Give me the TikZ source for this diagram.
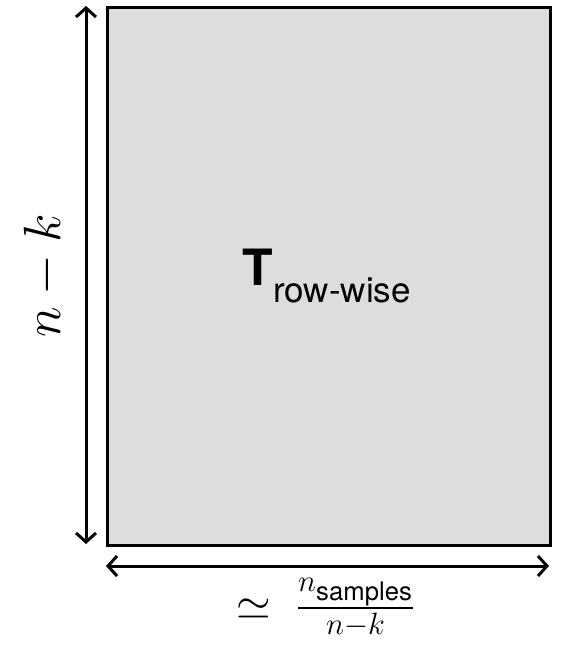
\documentclass[tikz,border=0pt]{standalone}
\usepackage{amsmath}
\usepackage{fontspec}
\setsansfont{TeX Gyre Heros}
\usetikzlibrary{arrows.meta}
\definecolor{boxgray}{HTML}{DDDDDD}
\begin{document}
\begin{tikzpicture}[x=1pt,y=-1pt,
  dimarrow/.style={line width=3pt,{Straight Barb[length=9pt,width=20pt]}-{Straight Barb[length=9pt,width=20pt]}},
  biglabel/.style={font=\fontsize{20.74}{25}\selectfont, inner sep=0pt, scale=2.14, transform shape}]
\useasboundingbox (0,0) rectangle (560,648);
\node[draw, line width=3pt, fill=boxgray, minimum width=443pt, minimum height=538pt, anchor=north west, inner sep=0pt] (M) at (106,6) {};
\node[inner sep=0pt, anchor=center, font=\fontsize{50}{56}\selectfont] (T) at (327,276) {\sffamily\bfseries T$_{\text{\sffamily\mdseries row-wise}}$};
\coordinate (vt) at (86,6);
\coordinate (vb) at (86,544);
\coordinate (hl) at (106,566);
\coordinate (hr) at (549,566);
\draw[dimarrow] (vt) -- (vb);
\draw[dimarrow] (hl) -- (hr);
\node[biglabel, rotate=90, scale=1.18] (L) at (44,276) {$n-k$};
\node[biglabel] (B) at (326,608) {$\simeq\;\frac{n_{\textsf{samples}}}{n-k}$};
\end{tikzpicture}
\end{document}
